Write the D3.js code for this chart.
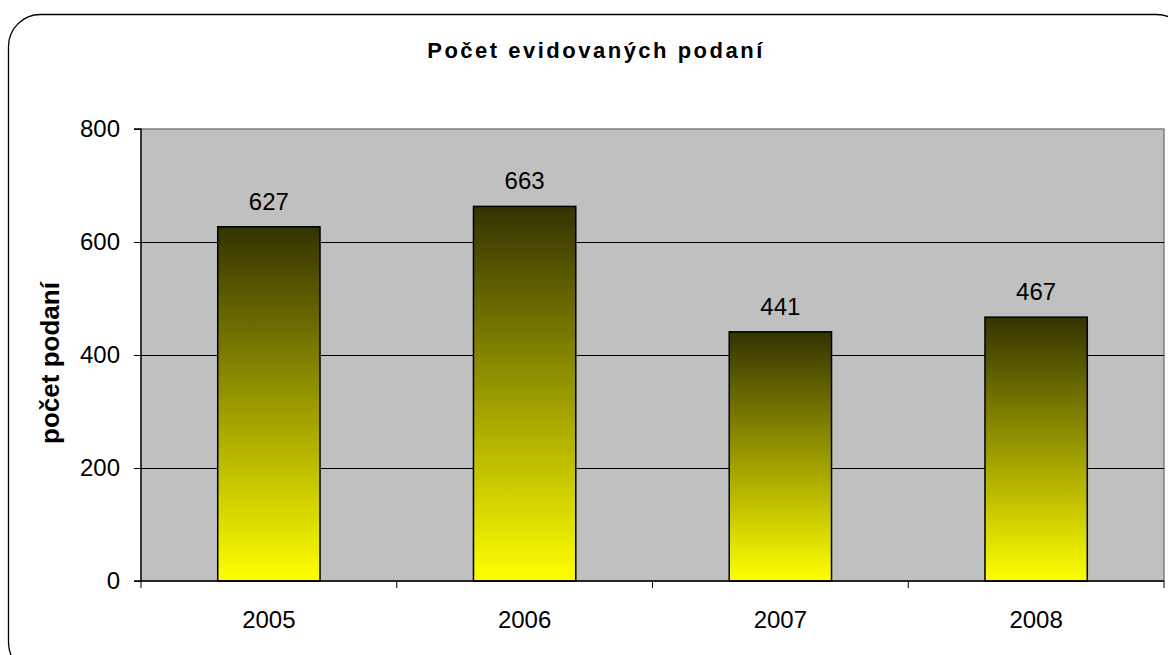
<!DOCTYPE html>
<html><head><meta charset="utf-8">
<script src="https://cdn.jsdelivr.net/npm/d3@7"></script>
<style>body{margin:0;background:#fff}svg{display:block;font-family:"Liberation Sans",Arial,sans-serif}</style>
</head><body>
<svg id="c" width="1168" height="655"></svg>
<script>
const categories = ["2005","2006","2007","2008"];
const values = [627,663,441,467];
const yTicks = [0,200,400,600,800];
const title = "Počet evidovaných podaní";
const yTitle = "počet podaní";

const svg = d3.select("#c");
const m = {l:141, r:1164, t:129, b:581};

svg.append("rect").attr("x",8.5).attr("y",14.5).attr("width",1180).attr("height",660)
  .attr("rx",32).attr("ry",32).attr("fill","#fff").attr("stroke","#000").attr("stroke-width",1.3);

const defs = svg.append("defs");
const g = defs.append("linearGradient").attr("id","bg").attr("x1",0).attr("y1",0).attr("x2",0).attr("y2",1);
g.append("stop").attr("offset","0%").attr("stop-color","#333300");
g.append("stop").attr("offset","50%").attr("stop-color","#999900");
g.append("stop").attr("offset","100%").attr("stop-color","#ffff00");

const x = d3.scaleBand().domain(categories).range([m.l,m.r]).paddingInner(0).paddingOuter(0);
const y = d3.scaleLinear().domain([0,800]).range([m.b,m.t]);

svg.append("rect").attr("x",m.l).attr("y",m.t).attr("width",m.r-m.l).attr("height",m.b-m.t)
  .attr("fill","#c0c0c0").attr("stroke","#808080").attr("stroke-width",1.5);

svg.append("g").selectAll("line").data(yTicks.filter(d=>d>0&&d<800)).join("line")
  .attr("x1",m.l).attr("x2",m.r).attr("y1",d=>Math.round(y(d))+0.5).attr("y2",d=>Math.round(y(d))+0.5)
  .attr("stroke","#000").attr("stroke-width",1);

const bw = x.bandwidth()*0.4;
svg.append("g").selectAll("rect").data(values).join("rect")
  .attr("x",(d,i)=>x(categories[i])+x.bandwidth()/2-bw/2)
  .attr("y",d=>y(d)).attr("width",bw).attr("height",d=>m.b-y(d))
  .attr("fill","url(#bg)").attr("stroke","#000").attr("stroke-width",1.5);

svg.append("g").selectAll("text").data(values).join("text")
  .attr("x",(d,i)=>x(categories[i])+x.bandwidth()/2).attr("y",d=>y(d)-17)
  .attr("text-anchor","middle").attr("font-size",24).text(d=>d);

// y axis
const ya = svg.append("g").attr("transform",`translate(${m.l},0)`)
  .call(d3.axisLeft(y).tickValues(yTicks).tickSize(7).tickPadding(14).tickFormat(d3.format("d")));
ya.select(".domain").attr("stroke","#000").attr("stroke-width",1.3).attr("d",`M-7,${m.t}H0V${m.b}`);
ya.selectAll("line").attr("stroke","#000");
ya.selectAll("text").attr("font-size",24).attr("font-family","Liberation Sans, Arial, sans-serif").attr("fill","#000");

// x axis
const xa = svg.append("g").attr("transform",`translate(0,${m.b})`);
xa.append("line").attr("x1",m.l-7).attr("x2",m.r).attr("y1",0).attr("y2",0).attr("stroke","#000").attr("stroke-width",1.3);
const bounds = categories.map(c=>x(c)).concat([m.r]);
xa.selectAll("line.t").data(bounds).join("line").attr("class","t")
  .attr("x1",d=>d).attr("x2",d=>d).attr("y1",0).attr("y2",7).attr("stroke","#000");
xa.selectAll("text").data(categories).join("text")
  .attr("x",d=>x(d)+x.bandwidth()/2).attr("y",47).attr("text-anchor","middle").attr("font-size",24).text(d=>d);

svg.append("text").attr("x",596).attr("y",58).attr("text-anchor","middle")
  .attr("font-size",22).attr("font-weight","bold").attr("letter-spacing",2.5).text(title);

svg.append("text").attr("transform",`translate(59,363) rotate(-90)`).attr("text-anchor","middle")
  .attr("font-size",26).attr("font-weight","bold").text(yTitle);
</script>
</body></html>
